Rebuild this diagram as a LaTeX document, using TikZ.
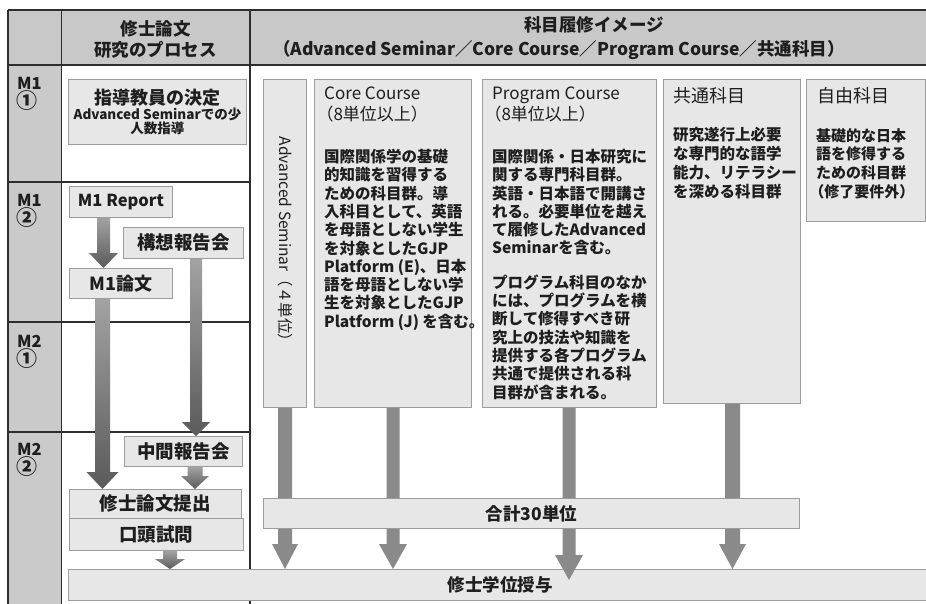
\documentclass[tikz,border=0pt]{standalone}
\usepackage{fontspec}
\setmainfont{Noto Sans CJK JP}
\usetikzlibrary{calc}
\definecolor{hdrfill}{HTML}{C8C8C8}
\definecolor{sidefill}{HTML}{CACACA}
\definecolor{boxfill}{HTML}{E7E7E7}
\definecolor{boxline}{HTML}{9C9C9C}
\definecolor{tablel}{HTML}{2E2E2E}
\definecolor{arrgray}{HTML}{8A8A8A}
\definecolor{arrlight}{HTML}{A2A2A2}
\definecolor{arrdark}{HTML}{5A5A5A}
\definecolor{txt}{HTML}{1E1E1E}
\newcommand\fsz[2]{\fontsize{#1}{#2}\selectfont}
% box: name, x1, y1, x2, y2, text
\newcommand\mkbox[7][]{\node[box,anchor=north west,minimum width={#5-#3},minimum height={#6-#4},#1] (#2) at (#3,#4) {#7};}
% block arrow: style, x, from, to, shaft half width, head half width, head length
\newcommand\barrow[7]{%
  \path[#1] let \p1=(#3), \p2=(#4) in
    (#2pt-#5pt,\y1) -- (#2pt+#5pt,\y1) -- (#2pt+#5pt,\y2+#7pt) -- (#2pt+#6pt,\y2+#7pt)
    -- (#2pt,\y2) -- (#2pt-#6pt,\y2+#7pt) -- (#2pt-#5pt,\y2+#7pt) -- cycle;}
\begin{document}
\begin{tikzpicture}[x=1pt,y=-1pt,
  box/.style={draw=boxline, fill=boxfill, line width=0.9pt, inner sep=0pt, text=txt},
  tline/.style={draw=tablel, line width=1.3pt},
  lbl/.style={inner sep=0pt, align=left, anchor=north west, text=txt},
  rowm/.style={inner sep=0pt, anchor=west, text=txt, font=\fsz{16.5}{18}\bfseries},
  rowc/.style={inner sep=0pt, text=txt, font=\fsz{21}{22}\bfseries},
  solidarr/.style={fill=arrgray},
  shadearr/.style={top color=arrlight, bottom color=arrdark},
]
\useasboundingbox (0,0) rectangle (926,604);
\fill[white] (0,0) rectangle (926,604);
% table background
\fill[hdrfill] (8,10) rectangle (930,65);
\fill[sidefill] (8,65) rectangle (61.5,610);
% table lines
\draw[tline] (8,10) -- (930,10);
\draw[tline] (8,65) -- (930,65);
\draw[tline] (8,10) -- (8,610);
\draw[tline] (61.5,10) -- (61.5,610);
\draw[tline] (250,10) -- (250,610);
\draw[tline] (8,182) -- (250,182);
\draw[tline] (8,322) -- (250,322);
\draw[tline] (8,432) -- (250,432);
% header texts
\node[inner sep=0pt, align=center, text=txt, font=\fsz{17.5}{21}\bfseries] (hleft) at (155.5,39.5) {修士論文\\研究のプロセス};
\node[inner sep=0pt, text=txt, font=\fsz{17.5}{20}\bfseries] (htitle) at (594,25) {科目履修イメージ};
\node[inner sep=0pt, text=txt, font=\fsz{17.5}{20}\bfseries] (hsub) at (559,50) {（Advanced Seminar／Core Course／Program Course／共通科目）};
% row labels
\node[rowm] (r1m) at (17,83) {M1};
\node[rowc] (r1c) at (27,100.5) {①};
\node[rowm] (r2m) at (17,200) {M1};
\node[rowc] (r2c) at (27,217.5) {②};
\node[rowm] (r3m) at (17,341) {M2};
\node[rowc] (r3c) at (27,358.5) {①};
\node[rowm] (r4m) at (17,449) {M2};
\node[rowc] (r4c) at (27,466.5) {②};
% left column boxes
\mkbox[align=center]{shido}{68}{79}{246}{144}{{\fsz{18}{16}\bfseries 指導教員の決定}\\[0pt]{\fsz{13.5}{15}\bfseries Advanced Seminarでの少}\\{\fsz{13.5}{15}\bfseries 人数指導}}
\mkbox[font=\fsz{16.5}{20}\bfseries]{m1rep}{69}{186}{172}{217}{M1 Report}
\mkbox[font=\fsz{18.5}{20}\bfseries]{koso}{123}{227}{243}{258}{構想報告会}
\mkbox[font=\fsz{18}{20}\bfseries]{m1ron}{69}{268}{172}{298}{M1論文}
\mkbox[font=\fsz{18.5}{20}\bfseries]{chukan}{124}{436}{242}{466}{中間報告会}
\mkbox[font=\fsz{18.5}{20}\bfseries]{teishutsu}{69}{489}{241}{518}{修士論文提出}
\mkbox[font=\fsz{18.5}{20}\bfseries]{koto}{69}{518}{243}{550}{口頭試問}
% course boxes
\mkbox{adv}{263}{79}{306}{407}{}
\node[inner sep=0pt, rotate=-90, text=txt, font=\fsz{15.5}{18}] (advtxt) at (285,243) {Advanced Seminar（４単位）};
\mkbox{core}{314}{79}{471}{407}{}
\mkbox{prog}{482}{79}{656}{407}{}
\mkbox{kyotsu}{663}{79}{800}{403}{}
\mkbox{jiyu}{806}{79}{925}{221}{}
\node[lbl, font=\fsz{17}{21}] (coret) at (324,87) {Core Course\\\hspace*{-0.45em}（8単位以上）};
\node[lbl, font=\fsz{15.5}{18.3}\bfseries] (coreb) at (324,149) {国際関係学の基礎\\的知識を習得する\\ための科目群。導\\入科目として、英語\\を母語としない学生\\を対象としたGJP\\Platform (E)、日本\\語を母語としない学\\生を対象としたGJP\\Platform (J) を含む。};
\node[lbl, font=\fsz{17}{21}] (progt) at (492,87) {Program Course\\\hspace*{-0.45em}（8単位以上）};
\node[lbl, font=\fsz{15.5}{18.3}\bfseries] (progb) at (492,149) {国際関係・日本研究に\\関する専門科目群。\\英語・日本語で開講さ\\れる。必要単位を越え\\て履修したAdvanced\\Seminarを含む。\\[16pt]プログラム科目のなか\\には、プログラムを横\\断して修得すべき研\\究上の技法や知識を\\提供する各プログラム\\共通で提供される科\\目群が含まれる。};
\node[lbl, font=\fsz{18}{21}] (kyotsut) at (673,87) {共通科目};
\node[lbl, font=\fsz{15.5}{19}\bfseries] (kyotsub) at (673,127) {研究遂行上必要\\な専門的な語学\\能力、リテラシー\\を深める科目群};
\node[lbl, font=\fsz{18}{21}] (jiyut) at (817,87) {自由科目};
\node[lbl, font=\fsz{15}{18.7}\bfseries] (jiyub) at (816,128) {基礎的な日本\\語を修得する\\ための科目群\\\hspace*{-0.45em}（修了要件外）};
% degree bar
\mkbox{degree}{68}{569}{935}{600}{}
\node[inner sep=0pt, text=txt, font=\fsz{17.5}{20}\bfseries] (degtxt) at (500,585) {修士学位授与};
% left arrows
\barrow{shadearr}{103.5}{m1rep.south}{m1ron.north}{6.5}{14.5}{15}
\barrow{shadearr}{196}{koso.south}{chukan.north}{6}{14}{14}
\barrow{shadearr}{102.5}{m1ron.south}{teishutsu.north}{7.5}{16}{17}
\barrow{shadearr}{195}{chukan.south}{teishutsu.north}{7.5}{14}{13}
\barrow{shadearr}{170}{koto.south}{degree.north}{7}{15}{10}
% right arrows
\barrow{solidarr}{285}{adv.south}{degree.north}{7}{13}{25}
\barrow{solidarr}{393}{core.south}{degree.north}{6.5}{14}{25}
\barrow{solidarr}{569}{prog.south}{$(degree.north)+(0,11)$}{6.5}{14}{25}
\barrow{solidarr}{732.5}{kyotsu.south}{degree.north}{7.5}{13.5}{25}
% total bar
\mkbox[font=\fsz{17.5}{20}\bfseries]{total}{263}{498}{799}{528}{合計30単位}
\end{tikzpicture}
\end{document}
